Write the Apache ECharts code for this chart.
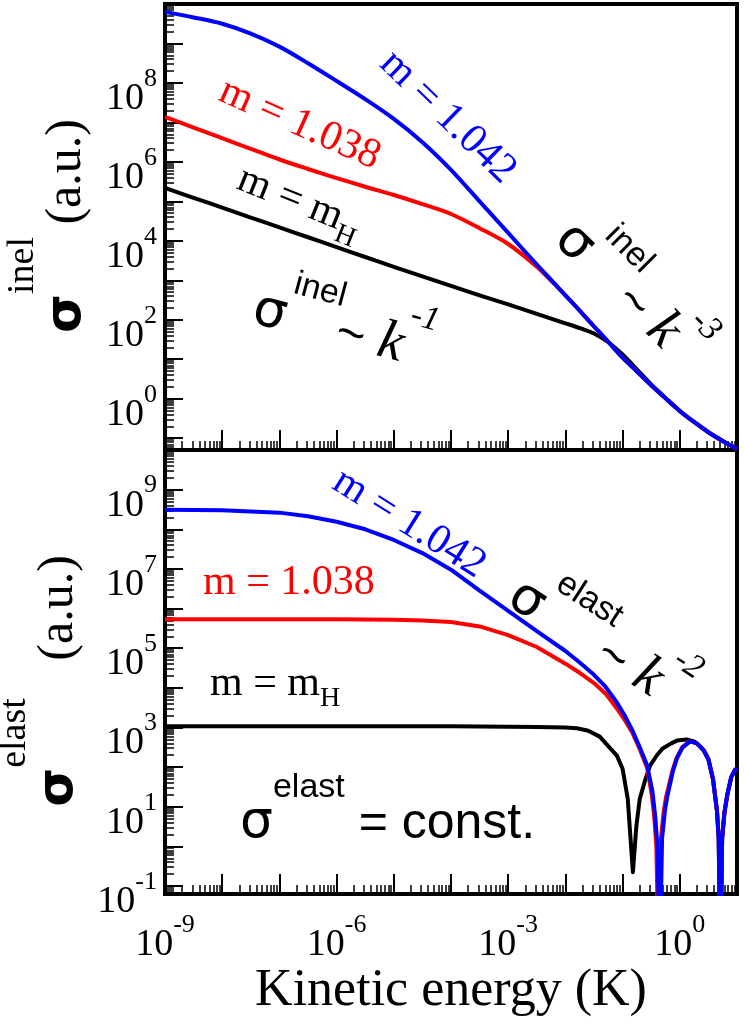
<!DOCTYPE html>
<html>
<head>
<meta charset="utf-8">
<title>sigma inel / elast</title>
<script src="https://cdn.jsdelivr.net/npm/echarts@6/dist/echarts.min.js"></script>
<style>
html, body { margin: 0; padding: 0; background: #fff; }
#main { width: 744px; height: 1023px; }
</style>
</head>
<body>
<div id="main"></div>
<script>
// values are read off log-log axes, so they are kept as log10:
// x = log10(E / K), y = log10(sigma / a.u.)

// upper panel: inelastic
var inelLogE = [-9, -8.5, -8, -7.5, -7, -6.5, -6, -5.5, -5, -4.5, -4, -3.5, -3, -2.5, -2, -1.75, -1.5, -1.25, -1, -0.75, -0.5, -0.25, 0, 0.25, 0.5, 0.75, 1];
var inelH    = [5.34, 5.09, 4.84, 4.59, 4.34, 4.09, 3.84, 3.59, 3.34, 3.10, 2.86, 2.62, 2.39, 2.15, 1.91, 1.79, 1.65, 1.43, 1.12, 0.74, 0.36, 0.02, -0.31, -0.59, -0.85, -1.07, -1.27];
var inel1038 = [7.14, 6.87, 6.60, 6.33, 6.06, 5.82, 5.59, 5.37, 5.16, 4.93, 4.68, 4.32, 3.92, 3.34, 2.62, 2.23, 1.83, 1.44, 1.04, 0.69, 0.34, 0.01, -0.31, -0.59, -0.85, -1.07, -1.27];
var inel1042 = [9.80, 9.66, 9.50, 9.25, 8.92, 8.50, 8.05, 7.59, 7.09, 6.50, 5.80, 5.00, 4.20, 3.40, 2.62, 2.23, 1.83, 1.44, 1.04, 0.69, 0.34, 0.01, -0.31, -0.59, -0.85, -1.07, -1.27];

// lower panel: elastic
var elHLogE = [-9, -8, -7, -6, -5, -4, -3, -2.5, -2, -1.8, -1.6, -1.4, -1.2, -1.1, -1.0, -0.91, -0.82, -0.76, -0.7, -0.6,
               -0.52, -0.4, -0.3, -0.15, -0.05, 0.12, 0.25, 0.36, 0.42, 0.5, 0.58, 0.65, 0.68, 0.71, 0.74, 0.78, 0.83, 0.9, 0.96, 1.0];
var elH     = [3.03, 3.03, 3.03, 3.03, 3.03, 3.03, 3.02, 3.01, 3.0, 2.98, 2.92, 2.77, 2.45, 2.29, 1.96, 1.2, -0.65, 0.5, 1.2, 1.7,
               2.04, 2.3, 2.47, 2.6, 2.67, 2.7, 2.65, 2.52, 2.42, 2.2, 1.7, 0.9, 0.2, -3, 0.2, 0.85, 1.3, 1.75, 1.92, 1.97];

var el1038LogE = [-9, -8, -7, -6, -5, -4.5, -4, -3.5, -3, -2.5, -2, -1.75, -1.5, -1.3, -1.1, -0.95, -0.82, -0.7, -0.57, -0.49,
                  -0.45, -0.41, -0.37, -0.33, -0.28, -0.24, -0.13, -0.06, 0.04, 0.17, 0.3, 0.42, 0.5, 0.58, 0.65, 0.68, 0.71, 0.74, 0.78, 0.83, 0.9, 0.96, 1.0];
var el1038     = [5.73, 5.73, 5.73, 5.73, 5.72, 5.70, 5.66, 5.55, 5.33, 5.03, 4.61, 4.38, 4.12, 3.86, 3.48, 3.16, 2.84, 2.45, 1.98, 1.3,
                  0.8, 0, -3, 0.2, 0.9, 1.25, 1.9, 2.22, 2.5, 2.65, 2.6, 2.42, 2.2, 1.7, 0.9, 0.2, -3, 0.2, 0.85, 1.3, 1.75, 1.92, 1.97];

var el1042LogE = [-9, -8, -7, -6.5, -6, -5.5, -5, -4.5, -4, -3.5, -3, -2.5, -2, -1.75, -1.5, -1.3, -1.1, -0.95, -0.82, -0.7,
                  -0.57, -0.48, -0.43, -0.39, -0.35, -0.31, -0.26, -0.22, -0.12, -0.05, 0.05, 0.18, 0.3, 0.42, 0.5, 0.58, 0.65, 0.68,
                  0.71, 0.74, 0.78, 0.83, 0.9, 0.96, 1.0];
var el1042     = [8.49, 8.48, 8.42, 8.33, 8.19, 8.0, 7.73, 7.4, 6.98, 6.45, 5.94, 5.43, 4.93, 4.64, 4.33, 4.03, 3.63, 3.27, 2.9, 2.5,
                  2.04, 1.4, 0.77, 0, -3, 0.2, 0.9, 1.25, 1.9, 2.22, 2.5, 2.65, 2.6, 2.42, 2.2, 1.7, 0.9, 0.2,
                  -3, 0.2, 0.85, 1.3, 1.75, 1.92, 1.97];

// axes (decade exponents)
var xRange = [-9, 1];
var yRangeInel = [-1.3, 10];
var yRangeElast = [-1.2, 10];
var xLabelExp = [-9, -6, -3, 0];
var yLabelExpInel = [0, 2, 4, 6, 8];
var yLabelExpElast = [-1, 1, 3, 5, 7, 9];

var TIMES = 'Liberation Serif', SANS = 'Liberation Sans', GREEK = 'DejaVu Sans';

function decades(r) {
    var out = [];
    for (var d = Math.ceil(r[0]); d <= Math.floor(r[1]); d++) out.push(d);
    return out;
}
function minorTicks(r) {
    var out = [];
    for (var d = Math.floor(r[0]); d < r[1]; d++) {
        for (var j = 2; j <= 9; j++) {
            var v = d + Math.log10(j);
            if (v > r[0] && v < r[1]) out.push(v);
        }
    }
    return out;
}
function pairs(xs, ys) {
    return xs.map(function (x, i) { return [x, ys[i]]; });
}
function expLabel(v) {
    return '{b|10}{s|' + Math.round(v) + '}';
}

var tickRich = {
    b: {fontFamily: TIMES, fontSize: 38, lineHeight: 52, verticalAlign: 'bottom', color: '#000'},
    s: {fontFamily: TIMES, fontSize: 26, lineHeight: 26, verticalAlign: 'top', color: '#000'}
};

function xAxisPair(grid, withLabels) {
    var major = {
        type: 'value', gridIndex: grid, min: xRange[0], max: xRange[1], position: 'bottom',
        axisLine: {show: false, onZero: false}, splitLine: {show: false},
        axisTick: {show: true, inside: true, length: 20, lineStyle: {color: '#000', width: 2}, customValues: decades(xRange)},
        axisLabel: {show: false}
    };
    if (withLabels) {
        major.axisLabel = {show: true, customValues: xLabelExp, formatter: expLabel, rich: tickRich, margin: 18};
        major.name = 'Kinetic energy (K)';
        major.nameLocation = 'middle';
        major.nameGap = 67;
        major.nameTextStyle = {fontFamily: TIMES, fontSize: 52, color: '#000'};
    }
    var minor = {
        type: 'value', gridIndex: grid, min: xRange[0], max: xRange[1], position: 'bottom',
        axisLine: {show: false, onZero: false}, splitLine: {show: false}, axisLabel: {show: false},
        axisTick: {show: true, inside: true, length: 9, lineStyle: {color: '#000', width: 1.5}, customValues: minorTicks(xRange)}
    };
    return [major, minor];
}
function yAxisPair(grid, range, labels) {
    var major = {
        type: 'value', gridIndex: grid, min: range[0], max: range[1], position: 'left',
        axisLine: {show: false, onZero: false}, splitLine: {show: false},
        axisTick: {show: true, inside: true, length: 18, lineStyle: {color: '#000', width: 2}, customValues: decades(range)},
        axisLabel: {show: true, customValues: labels, formatter: expLabel, rich: tickRich, margin: 8, padding: [18, 0, 0, 0]}
    };
    var minor = {
        type: 'value', gridIndex: grid, min: range[0], max: range[1], position: 'left',
        axisLine: {show: false, onZero: false}, splitLine: {show: false}, axisLabel: {show: false},
        axisTick: {show: true, inside: true, length: 9, lineStyle: {color: '#000', width: 1.5}, customValues: minorTicks(range)}
    };
    return [major, minor];
}

function curve(name, grid, xs, ys, color) {
    return {
        name: name, type: 'line', xAxisIndex: grid * 2, yAxisIndex: grid * 2,
        data: pairs(xs, ys), symbol: 'none', smooth: grid === 0 ? 0.3 : false,
        lineStyle: {color: color, width: 4, join: 'round'}, silent: true, clip: true
    };
}

// text helpers (deg = clockwise rotation)
function ann(x, y, deg, text, rich, align) {
    return {
        type: 'text', x: x, y: y, rotation: -deg * Math.PI / 180, silent: true, z: 10,
        style: {text: text, rich: rich, align: align || 'center', verticalAlign: 'middle', fill: '#000'}
    };
}
function mRich(color) {
    return {
        a: {fontFamily: TIMES, fontSize: 42, lineHeight: 50, verticalAlign: 'top', fill: color},
        h: {fontFamily: TIMES, fontSize: 28, lineHeight: 28, padding: [26, 0, 0, 0], verticalAlign: 'bottom', fill: color}
    };
}
var sigRich = {
    sig: {fontFamily: GREEK, fontSize: 52, lineHeight: 78, verticalAlign: 'bottom', fill: '#000'},
    sup: {fontFamily: SANS, fontSize: 34, lineHeight: 34, verticalAlign: 'top', fill: '#000'},
    t: {fontFamily: SANS, fontSize: 50, lineHeight: 78, verticalAlign: 'bottom', fill: '#000'},
    k: {fontFamily: TIMES, fontStyle: 'italic', fontSize: 56, lineHeight: 78, verticalAlign: 'bottom', fill: '#000'},
    ks: {fontFamily: TIMES, fontStyle: 'italic', fontSize: 34, lineHeight: 34, verticalAlign: 'top', fill: '#000'}
};
var yTitleRich = {
    sig: {fontFamily: GREEK, fontWeight: 'bold', fontSize: 50, lineHeight: 88, verticalAlign: 'bottom', fill: '#000'},
    sup: {fontFamily: TIMES, fontSize: 38, lineHeight: 38, verticalAlign: 'top', fill: '#000'},
    par: {fontFamily: TIMES, fontSize: 50, lineHeight: 88, verticalAlign: 'bottom', fill: '#000'}
};

var xAxes = xAxisPair(0, false).concat(xAxisPair(1, true));
var yAxes = yAxisPair(0, yRangeInel, yLabelExpInel).concat(yAxisPair(1, yRangeElast, yLabelExpElast));

var chart = echarts.init(document.getElementById('main'), null, {renderer: 'canvas'});
chart.setOption({
    animation: false,
    backgroundColor: '#fff',
    grid: [
        {left: 165, top: 4, width: 572, height: 446, show: true, borderColor: '#000', borderWidth: 4,
         backgroundColor: 'transparent', containLabel: false, outerBoundsMode: 'none'},
        {left: 165, top: 450, width: 572, height: 444, show: true, borderColor: '#000', borderWidth: 4,
         backgroundColor: 'transparent', containLabel: false, outerBoundsMode: 'none'}
    ],
    xAxis: xAxes,
    yAxis: yAxes,
    series: [
        curve('m = mH', 0, inelLogE, inelH, '#000000'),
        curve('m = 1.038', 0, inelLogE, inel1038, '#ff0000'),
        curve('m = 1.042', 0, inelLogE, inel1042, '#0000ff'),
        curve('m = mH', 1, elHLogE, elH, '#000000'),
        curve('m = 1.038', 1, el1038LogE, el1038, '#ff0000'),
        curve('m = 1.042', 1, el1042LogE, el1042, '#0000ff')
    ],
    graphic: [
        // axis titles
        ann(48, 226, -90, '{sig|σ}{sup|inel}{par| (a.u.)}', yTitleRich),
        ann(40, 681, -90, '{sig|σ}{sup|elast}{par|   (a.u.)}', yTitleRich),
        // upper panel
        ann(445, 120, 44, '{a|m = 1.042}', mRich('#0000ff')),
        ann(298, 128, 24, '{a|m = 1.038}', mRich('#ff0000')),
        ann(298, 206, 22, '{a|m = m}{h|H}', mRich('#000000')),
        ann(345, 320, 15, '{sig|σ}{sup|inel}{t|~ }{k|k}{ks|-1}', sigRich),
        ann(636, 287, 45, '{sig|σ}{sup|inel}{t|~ }{k|k}{ks|-3}', sigRich),
        // lower panel
        ann(407, 527, 32, '{a|m = 1.042}', mRich('#0000ff')),
        ann(203, 587, 0, '{a|m = 1.038}', mRich('#ff0000'), 'left'),
        ann(210, 688, 0, '{a|m = m}{h|H}', mRich('#000000'), 'left'),
        ann(240, 810, 0, '{sig|σ}{sup|elast}{t| = const.}', sigRich, 'left'),
        ann(604, 636, 33, '{sig|σ}{sup|elast}{t|~ }{k|k}{ks|-2}', sigRich)
    ]
});
</script>
</body>
</html>
